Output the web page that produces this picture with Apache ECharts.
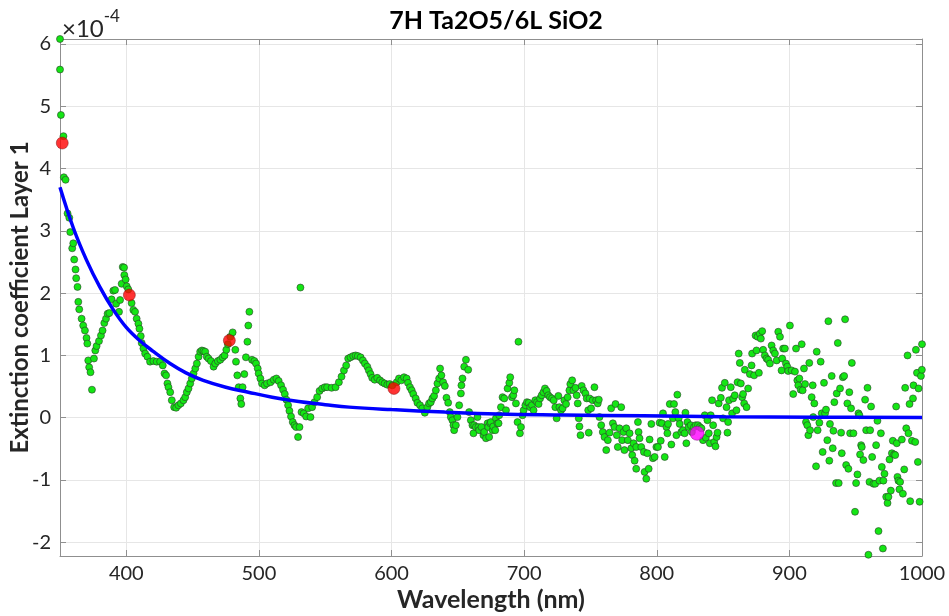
<!DOCTYPE html>
<html>
<head>
<meta charset="utf-8">
<script src="https://cdn.jsdelivr.net/npm/echarts@6/dist/echarts.min.js"></script>
<style>
html,body{margin:0;padding:0;background:#fff;}
#chart{width:949px;height:616px;}
</style>
</head>
<body>
<div id="chart"></div>
<script>
// ---- data (y values in units of 1e-4) ----
const xTicks = [400, 500, 600, 700, 800, 900, 1000];
const yTicks = [-2, -1, 0, 1, 2, 3, 4, 5, 6];

const greenX = [
350.0,350.0,350.7,352.6,352.9,354.2,355.7,357.0,357.7,359.2,360.0,360.7,361.7,362.2,363.2,363.8,364.5,366.3,367.5,368.8,
370.0,370.6,371.3,372.0,373.0,374.1,375.6,376.6,377.6,379.4,380.9,382.1,383.4,384.7,385.9,387.2,388.9,390.2,391.5,392.3,
394.5,395.3,396.5,397.3,398.3,398.5,399.5,400.3,401.5,404.0,405.3,406.6,407.8,409.1,409.9,410.9,411.6,412.9,414.2,415.9,
417.9,420.4,422.9,425.5,427.5,428.8,430.0,431.0,431.8,433.1,434.3,436.1,437.6,439.3,441.1,443.1,444.4,445.6,446.9,448.2,
449.4,450.7,452.0,453.2,454.5,455.7,457.0,458.2,459.5,460.7,462.0,463.8,465.8,467.1,469.0,470.9,472.6,474.1,475.4,476.6,
478.4,480.2,482.2,482.7,483.7,484.7,486.0,486.7,487.7,489.0,490.2,491.3,492.0,492.8,494.8,496.6,497.8,499.1,499.8,501.1,
502.3,504.3,506.1,508.7,511.2,513.2,514.9,516.7,518.2,519.5,520.7,522.0,523.0,524.2,525.5,526.8,528.0,529.5,530.6,531.3,
532.1,533.8,535.6,537.1,538.9,540.1,541.9,543.9,545.7,547.7,549.7,551.4,554.8,557.8,560.3,562.3,564.1,565.8,567.3,569.1,
571.1,572.9,574.6,576.7,578.4,579.9,581.7,582.9,584.2,585.4,587.3,589.2,591.3,593.0,594.8,596.8,598.6,600.6,603.9,605.6,
607.4,609.4,611.4,612.4,613.9,615.2,616.4,618.2,619.5,621.5,623.2,625.1,627.0,628.3,629.6,630.8,632.1,633.4,634.6,635.9,
636.6,637.6,638.9,640.2,641.4,642.7,643.9,644.7,645.9,646.7,647.2,648.5,649.7,651.0,652.3,652.7,653.5,654.8,656.1,657.8,
658.5,659.8,661.0,661.8,662.3,663.6,664.8,665.5,666.1,667.8,669.3,669.9,671.2,672.4,672.9,673.6,674.4,674.9,676.2,676.7,
678.2,678.7,679.9,680.7,681.2,682.5,683.7,685.0,686.3,687.5,688.8,689.5,690.8,691.8,692.6,693.8,695.0,695.7,696.8,697.6,
698.8,699.6,700.9,702.1,703.4,704.6,705.9,707.1,708.4,709.7,710.9,712.0,713.2,714.5,715.7,717.0,718.2,719.5,721.0,722.3,
723.5,724.5,725.8,726.6,727.8,729.0,730.3,731.6,732.8,734.1,734.8,736.2,737.2,738.7,739.6,740.4,741.2,741.7,742.5,743.4,
744.7,746.2,747.2,748.3,748.7,749.3,750.5,751.7,753.0,754.3,755.5,756.3,756.8,758.1,759.3,760.6,761.9,763.1,764.4,765.6,
766.9,768.1,768.9,769.9,770.6,771.9,773.2,773.9,774.9,775.6,777.0,778.2,779.5,780.8,781.5,782.5,783.3,784.5,784.5,785.8,
786.3,787.0,788.3,790.3,790.8,792.1,792.9,793.9,794.6,795.9,797.1,798.4,799.7,800.9,802.2,803.0,803.9,804.7,806.0,807.3,
808.0,808.5,809.8,811.0,812.2,813.0,814.0,814.8,815.5,816.5,817.3,818.5,819.8,821.0,821.6,822.3,823.1,824.0,825.6,826.5,
828.1,829.4,831.1,832.4,833.7,834.9,836.2,837.0,838.2,839.2,840.0,840.7,841.7,842.5,843.3,844.3,845.1,845.8,846.7,848.3,
849.2,850.0,851.3,852.6,853.3,853.8,854.5,855.8,856.8,857.6,858.8,860.1,860.9,861.8,862.6,863.4,864.4,865.1,865.9,866.4,
867.7,868.9,870.2,871.5,871.9,873.4,874.5,875.2,876.0,877.0,877.7,878.5,879.5,880.2,881.5,882.8,884.0,885.3,886.6,887.8,
889.1,890.4,891.6,892.9,894.1,894.6,895.3,896.6,897.4,898.4,899.1,900.4,901.7,902.9,904.2,905.0,906.0,906.7,907.5,908.5,
909.3,910.0,911.0,911.8,912.5,913.5,914.3,915.0,915.6,916.8,917.6,918.0,918.8,920.1,920.6,921.3,922.6,923.6,924.4,925.1,
926.1,926.9,927.6,928.6,929.4,930.1,930.6,931.9,932.7,933.2,933.9,935.2,935.7,936.5,937.2,938.2,939.0,939.5,940.3,941.3,
942.0,942.8,943.7,944.5,945.2,945.8,946.5,947.1,948.3,949.5,950.3,951.3,952.1,952.8,953.3,954.1,954.6,955.8,957.1,957.9,
958.9,959.6,960.4,960.9,961.6,962.4,963.4,964.7,965.4,966.4,967.2,967.9,969.0,969.7,970.5,970.9,971.7,973.0,974.0,974.7,
975.5,976.5,977.3,978.0,979.0,979.8,980.5,981.0,981.5,982.2,983.0,983.5,984.8,985.6,986.6,987.3,988.1,989.1,989.8,990.6,
991.1,992.4,993.2,993.6,994.9,995.4,996.2,996.9,997.4,998.2,999.2,999.9,1000.0
];
const greenY = [
6.08,5.59,4.86,4.52,3.86,3.82,3.28,3.21,2.98,2.72,2.80,2.54,2.38,2.24,2.10,1.86,1.74,1.59,1.48,1.40,
1.28,1.19,0.92,0.81,0.73,0.45,0.95,1.08,1.15,1.23,1.32,1.40,1.52,1.59,1.67,1.68,1.90,2.04,2.05,1.83,
1.70,1.89,2.15,2.42,2.41,2.29,2.22,2.11,2.06,1.84,1.73,1.70,1.59,1.51,1.43,1.31,1.20,1.11,1.03,0.98,
0.90,0.91,0.90,0.90,0.84,0.71,0.68,0.55,0.49,0.41,0.28,0.17,0.16,0.20,0.23,0.28,0.33,0.41,0.47,0.55,
0.63,0.71,0.79,0.87,0.98,1.06,1.08,1.07,1.06,0.98,0.95,0.91,0.82,0.87,0.91,0.93,0.97,1.00,1.09,1.18,
1.30,1.37,1.09,0.90,0.68,0.49,0.31,0.22,0.49,0.70,0.97,1.22,1.48,1.70,0.93,0.91,0.87,0.79,0.71,0.63,
0.55,0.52,0.55,0.57,0.61,0.63,0.59,0.52,0.45,0.38,0.29,0.20,0.11,0.02,-0.07,-0.12,-0.15,-0.31,-0.15,2.09,
0.09,0.07,0.02,0.15,0.01,0.17,0.25,0.33,0.43,0.47,0.49,0.49,0.48,0.49,0.57,0.66,0.76,0.84,0.95,0.97,
0.99,1.00,0.99,0.97,0.92,0.87,0.82,0.76,0.70,0.64,0.61,0.64,0.60,0.57,0.55,0.53,0.54,0.52,0.57,0.63,
0.60,0.65,0.63,0.56,0.49,0.44,0.38,0.31,0.24,0.20,0.15,0.08,0.17,0.23,0.25,0.31,0.35,0.44,0.55,0.63,
0.79,0.68,0.57,0.51,0.32,0.24,0.09,0.01,-0.04,-0.12,-0.20,-0.12,0.01,0.20,0.39,0.52,0.63,0.82,0.93,0.77,
0.09,-0.04,-0.12,-0.25,-0.12,-0.15,0.01,-0.15,-0.20,-0.15,-0.28,-0.23,-0.33,-0.09,-0.15,-0.31,-0.09,-0.07,-0.20,-0.14,
-0.20,-0.01,-0.09,-0.09,0.04,0.17,0.33,0.31,0.12,0.47,0.56,0.65,0.33,0.36,0.44,0.23,-0.07,1.22,-0.25,-0.15,
0.04,0.12,0.20,0.25,0.24,0.17,0.20,0.12,0.28,0.25,0.22,0.31,0.36,0.41,0.47,0.43,0.36,0.33,0.31,0.28,
0.17,-0.01,0.35,0.17,0.12,0.15,0.28,0.22,0.33,0.44,0.54,0.60,0.44,0.48,0.36,0.23,-0.01,-0.14,-0.28,0.51,
0.44,0.39,0.31,0.12,-0.24,0.31,0.15,0.28,0.49,0.28,0.23,0.29,0.01,-0.12,-0.23,-0.31,-0.52,-0.36,-0.24,0.15,
-0.09,-0.15,0.22,-0.28,-0.47,-0.17,0.17,-0.36,-0.23,-0.52,-0.17,-0.36,-0.25,-0.49,-0.60,-0.41,-0.69,-0.47,-0.82,-0.07,
-0.23,-0.33,-0.47,-0.55,-0.87,-0.98,-0.57,-0.82,-0.35,-0.10,-0.65,-0.63,-0.47,-0.47,-0.08,-0.37,-0.09,0.07,-0.63,-0.15,
-0.25,-0.10,0.22,-0.43,-0.01,0.22,0.09,-0.28,0.37,-0.01,-0.10,-0.23,-0.20,-0.25,0.08,-0.41,-0.07,-0.15,-0.12,-0.23,
-0.15,-0.12,-0.12,-0.15,-0.17,-0.36,0.04,-0.32,-0.04,-0.25,-0.41,0.04,0.28,-0.12,-0.39,-0.46,-0.31,-0.24,0.23,0.32,
0.48,-0.01,0.56,0.17,-0.24,-0.07,0.28,0.49,0.07,0.31,0.36,0.12,0.57,1.03,0.88,0.55,0.33,0.38,0.23,0.77,
0.17,0.47,0.70,0.84,1.03,0.68,1.32,1.08,1.30,0.72,1.35,1.27,1.39,1.09,1.00,0.95,0.93,0.87,1.16,1.08,
1.03,0.92,1.38,1.30,0.76,0.95,1.11,1.11,0.87,0.82,0.75,1.48,0.76,0.38,0.74,1.11,0.60,0.52,0.63,0.45,
1.18,0.44,0.79,0.54,-0.07,-0.12,-0.28,0.88,-0.20,0.33,0.52,0.01,0.23,-0.78,1.06,-0.20,-0.08,0.90,0.07,-0.55,
0.56,0.07,0.13,-0.36,1.55,-0.69,-0.10,0.67,-0.49,-0.21,0.25,-1.05,0.39,1.20,-1.05,0.47,-0.24,-0.57,0.65,0.67,
1.58,-0.76,0.23,-0.82,0.41,-0.25,0.15,0.88,-0.25,-1.51,-1.05,-0.91,0.07,0.04,-0.59,-0.44,-0.47,-0.68,0.29,-0.20,
0.48,-2.20,-1.03,-0.20,0.18,-0.63,-1.06,-1.06,-0.44,-0.05,-1.82,-1.01,-0.25,-0.79,-2.10,-1.01,-0.90,-1.27,-1.37,-1.27,
-0.67,-1.17,-0.57,-0.37,-0.59,-0.60,0.18,-0.41,-0.95,-1.01,-1.15,-1.03,-0.35,-1.22,-0.83,0.48,-0.17,1.00,-0.25,0.22,
-1.34,-0.37,0.31,0.52,-0.39,1.09,0.72,-0.71,0.47,-1.35,0.67,0.77,1.18
];

const fitX = [350,360,370,380,390,400,410,420,433,445,458,475,492,510,530,550,568,600,640,680,730,790,850,920,1000];
const fitY = [3.70,3.05,2.53,2.10,1.74,1.45,1.24,1.07,0.87,0.72,0.60,0.49,0.41,0.33,0.26,0.21,0.17,0.13,0.09,0.06,0.045,0.03,0.015,0.008,0.005];

const redX = [351.7, 402.3, 477.7, 601.8];
const redY = [4.41, 1.97, 1.24, 0.47];

const magentaX = [830.4];
const magentaY = [-0.25];

// ---- build ----
const zip = (a, b) => a.map((v, i) => [v, b[i]]);
const FONT = 'Lato';
const axisGray = '#8f8f8f';
const textDark = '#262626';

const chart = echarts.init(document.getElementById('chart'), null, {renderer: 'canvas'});
const option = {
  animation: false,
  backgroundColor: '#ffffff',
  title: {
    text: '7H Ta2O5/6L SiO2',
    left: 491, top: 3, textAlign: 'center',
    textStyle: {fontFamily: FONT, fontWeight: 'bold', fontSize: 25, color: '#000'}
  },
  grid: {left: 60, right: 27, top: 39, bottom: 60, containLabel: false, outerBoundsMode: 'none'},
  graphic: [{
    type: 'text', left: 62, top: 8,
    style: {
      text: '{a|×10}{b|-4}',
      rich: {
        a: {fontFamily: FONT, fontSize: 24, fill: textDark, padding: [9, 0, 0, 0]},
        b: {fontFamily: FONT, fontSize: 17, fill: textDark, verticalAlign: 'top', padding: [0, 0, 12, 0]}
      }
    }
  }],
  xAxis: [{
    type: 'value', min: 350, max: 1000, position: 'bottom',
    name: 'Wavelength (nm)', nameLocation: 'middle', nameGap: 31, nameMoveOverlap: false,
    nameTextStyle: {fontFamily: FONT, fontWeight: 'bold', fontSize: 25, color: textDark},
    axisLine: {show: true, onZero: false, lineStyle: {color: axisGray, width: 1}},
    axisTick: {show: true, inside: true, length: 6, customValues: xTicks, lineStyle: {color: axisGray}},
    axisLabel: {customValues: xTicks, fontFamily: FONT, fontSize: 20, color: textDark, margin: 8,
      formatter: v => String(Math.round(v))},
    splitLine: {show: true, lineStyle: {color: '#e6e6e6', width: 1}}
  }, {
    type: 'value', min: 350, max: 1000, position: 'top',
    axisLine: {show: true, onZero: false, lineStyle: {color: axisGray, width: 1}},
    axisTick: {show: true, inside: true, length: 6, customValues: xTicks, lineStyle: {color: axisGray}},
    axisLabel: {show: false},
    splitLine: {show: false}
  }],
  yAxis: [{
    type: 'value', min: -2.22, max: 6.08, position: 'left',
    name: 'Extinction coefficient Layer 1', nameLocation: 'middle', nameGap: 28, nameMoveOverlap: false,
    nameTextStyle: {fontFamily: FONT, fontWeight: 'bold', fontSize: 24, color: textDark},
    axisLine: {show: true, onZero: false, lineStyle: {color: axisGray, width: 1}},
    axisTick: {show: true, inside: true, length: 6, customValues: yTicks, lineStyle: {color: axisGray}},
    axisLabel: {customValues: yTicks, fontFamily: FONT, fontSize: 20, color: textDark, margin: 9,
      formatter: v => String(Math.round(v))},
    splitLine: {show: true, lineStyle: {color: '#e6e6e6', width: 1}}
  }, {
    type: 'value', min: -2.22, max: 6.08, position: 'right',
    axisLine: {show: true, onZero: false, lineStyle: {color: axisGray, width: 1}},
    axisTick: {show: true, inside: true, length: 6, customValues: yTicks, lineStyle: {color: axisGray}},
    axisLabel: {show: false},
    splitLine: {show: false}
  }],
  series: [{
    type: 'scatter', name: 'data', xAxisIndex: 0, yAxisIndex: 0,
    data: zip(greenX, greenY), symbol: 'circle', symbolSize: 7, clip: false,
    itemStyle: {color: '#14e614', borderColor: '#2b3d2b', borderWidth: 0.6, opacity: 1},
    z: 2
  }, {
    type: 'line', name: 'fit', xAxisIndex: 0, yAxisIndex: 0,
    data: zip(fitX, fitY), smooth: 0.4, showSymbol: false, symbol: 'none',
    lineStyle: {color: '#0000ff', width: 3.5},
    z: 3
  }, {
    type: 'scatter', name: 'red', xAxisIndex: 0, yAxisIndex: 0,
    data: zip(redX, redY), symbol: 'circle', symbolSize: 12, clip: false,
    itemStyle: {color: '#ff0000', borderColor: '#7a1010', borderWidth: 0.6},
    z: 4
  }, {
    type: 'scatter', name: 'magenta', xAxisIndex: 0, yAxisIndex: 0,
    data: zip(magentaX, magentaY), symbol: 'circle', symbolSize: 14, clip: false,
    itemStyle: {color: '#ff00ff', borderColor: '#7a107a', borderWidth: 0.6},
    z: 4
  }]
};
chart.setOption(option);
</script>
</body>
</html>
